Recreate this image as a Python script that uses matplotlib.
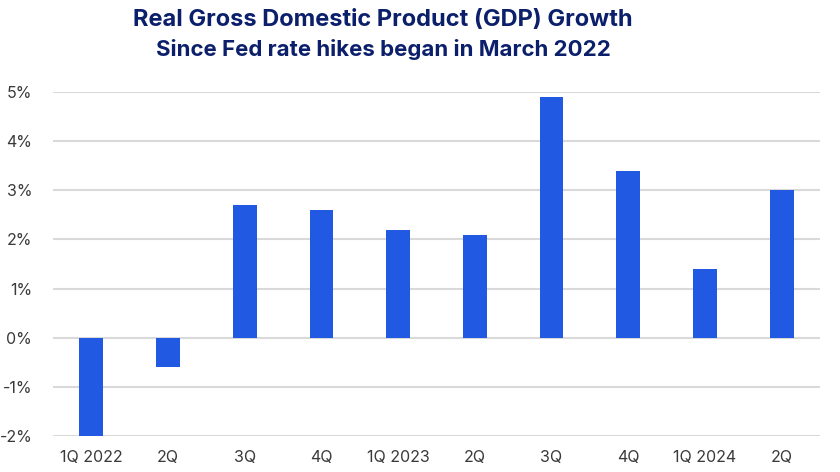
import matplotlib.pyplot as plt
import numpy as np

quarters = ["1Q 2022", "2Q", "3Q", "4Q", "1Q 2023", "2Q", "3Q", "4Q",
            "1Q 2024", "2Q"]
gdp_growth = [-2.0, -0.6, 2.7, 2.6, 2.2, 2.1, 4.9, 3.4, 1.4, 3.0]
y_ticks = [-2, -1, 0, 1, 2, 3, 4, 5]

bar_color = "#2259E3"
title_color = "#0B1F6B"
text_color = "#3A3A3A"

plt.rcParams['font.family'] = ['Inter', 'DejaVu Sans']

fig = plt.figure(figsize=(8.4, 4.72), dpi=100)
ax = fig.add_axes([53 / 840, 1 - 436 / 472, 767 / 840, 344 / 472])

x = np.arange(len(quarters))
ax.bar(x, gdp_growth, width=0.31, color=bar_color, zorder=3)

ax.set_xlim(-0.5, len(quarters) - 0.5)
ax.set_ylim(-2, 5)
ax.set_yticks(y_ticks)
ax.set_yticklabels([f"{t}%" for t in y_ticks])
ax.set_xticks(x)
ax.set_xticklabels(quarters)

ax.grid(axis='y', color="#D9D9D9", linewidth=1.5, zorder=0)
ax.tick_params(axis='both', length=0, labelsize=11.5, labelcolor=text_color)
ax.tick_params(axis='x', pad=10)
ax.tick_params(axis='y', pad=15)
for spine in ax.spines.values():
    spine.set_visible(False)

fig.text(383 / 840, 1 - 20 / 472, "Real Gross Domestic Product (GDP) Growth",
         ha='center', va='center', fontsize=17, fontweight='bold',
         color=title_color)
fig.text(383 / 840, 1 - 49 / 472, "Since Fed rate hikes began in March 2022",
         ha='center', va='center', fontsize=16, fontweight='bold',
         color=title_color)

fig.savefig("out.png", dpi=100)
